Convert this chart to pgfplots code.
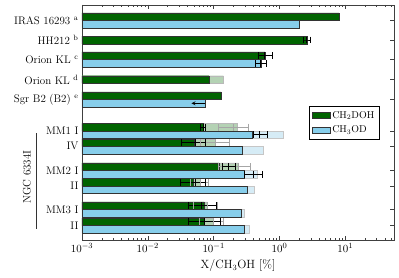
\documentclass[border=0pt]{standalone}
\usepackage{pgfplots}
\pgfplotsset{compat=1.18}
\definecolor{dg}{RGB}{0,100,0}
\definecolor{sb}{RGB}{135,206,235}
\definecolor{lg}{RGB}{180,210,180}
\definecolor{lb}{RGB}{214,236,246}
\begin{document}
\begin{tikzpicture}
\useasboundingbox (-82bp,-38bp) rectangle (317bp,240bp);
\begin{axis}[
 at={(0,0)}, anchor=south west,
 scale only axis, width=312bp, height=235bp,
 xmode=log, xmin=1e-3, xmax=55,
 ymin=5, ymax=240, y dir=reverse,
 log origin x=infty,
 bar shift=0pt, bar width=7.6,
 ytick={20.5,40,59.5,79.5,99.5,131,146.3,170.5,186,209.5,225.5},
 yticklabels={IRAS 16293 \textsuperscript{a},HH212 \textsuperscript{b},Orion KL \textsuperscript{c},Orion KL \textsuperscript{d},Sgr B2 (B2) \textsuperscript{e},MM1 I,IV,MM2 I,II,MM3 I,II},
 ticklabel style={font=\fontsize{11}{13}\selectfont},
 xlabel={X/CH$_3$OH [\%]},
 xlabel style={font=\fontsize{12}{14}\selectfont},
 axis line style={black!75},
 every tick/.style={black!75},
 major tick length=4bp, minor tick length=2bp,
 legend style={at={(0.728,0.57)}, anchor=north west, font=\fontsize{10}{12}\selectfont, draw=black, row sep=2pt, inner sep=3pt},
 legend cell align=left,
 legend image code/.code={\draw[#1] (0cm,-0.11cm) rectangle (0.62cm,0.11cm);},
]
% light bars
\addplot[xbar, fill=lg, draw=gray!55, forget plot] coordinates {(0.14,79.5) (0.23,127.2) (0.106,142.5) (0.24,166.7) (0.063,182.2) (0.08,205.7) (0.1,221.7)};
\addplot[xbar, fill=lb, draw=gray!45, forget plot] coordinates {(1.15,134.8) (0.57,150.1) (0.46,174.3) (0.42,189.8) (0.29,213.3) (0.35,229.3)};
% dark bars
\addplot[xbar, fill=dg, draw=black!80] coordinates {(8,16.7) (2.6,40) (0.6,55.7) (0.085,79.5) (0.13,95.7) (0.069,127.2) (0.05,142.5) (0.12,166.7) (0.049,182.2) (0.072,205.7) (0.072,221.7)};
\addlegendentry{CH$_2$DOH}
\addplot[xbar, fill=sb, draw=black!80] coordinates {(2.0,24.3) (0.52,63.3) (0.075,103.3) (0.39,134.8) (0.27,150.1) (0.29,174.3) (0.32,189.8) (0.26,213.3) (0.29,229.3)};
\addlegendentry{CH$_3$OD}
% gray error bars
\addplot[gray!70, line width=0.8pt, mark=|, mark size=3.5, mark options={solid, line width=0.8pt}, unbounded coords=jump, forget plot] coordinates {
 (0.12,127.2) (0.2,127.2) (0.34,127.2) (nan,nan)
 (0.063,142.5) (0.106,142.5) (0.174,142.5) (nan,nan)
 (0.12,166.7) (0.24,166.7) (0.36,166.7) (nan,nan)
 (0.045,182.2) (0.063,182.2) (0.083,182.2) (nan,nan)
 (0.05,205.7) (0.08,205.7) (0.115,205.7) (nan,nan)
 (0.06,221.7) (0.1,221.7) (0.14,221.7)};
% black error bars
\addplot[black, line width=0.8pt, mark=|, mark size=3.5, mark options={solid, line width=0.8pt}, unbounded coords=jump, forget plot] coordinates {
 (2.28,40) (2.6,40) (2.95,40) (nan,nan)
 (0.48,55.7) (0.6,55.7) (0.77,55.7) (nan,nan)
 (0.43,63.3) (0.52,63.3) (0.63,63.3) (nan,nan)
 (0.063,127.2) (0.069,127.2) (0.075,127.2) (nan,nan)
 (0.40,134.8) (0.5,134.8) (0.65,134.8) (nan,nan)
 (0.032,142.5) (0.053,142.5) (0.075,142.5) (nan,nan)
 (0.134,166.7) (0.17,166.7) (0.215,166.7) (nan,nan)
 (0.29,174.3) (0.40,174.3) (0.55,174.3) (nan,nan)
 (0.031,182.2) (0.052,182.2) (0.075,182.2) (nan,nan)
 (0.041,205.7) (0.066,205.7) (0.11,205.7) (nan,nan)
 (0.041,221.7) (0.072,221.7) (0.127,221.7)};
% upper limit arrow
\addplot[black, line width=0.8pt, -stealth, forget plot] coordinates {(0.075,103.3) (0.046,103.3)};
\end{axis}
\node[rotate=90, font=\fontsize{11}{13}\selectfont] at (-55bp,63bp) {NGC 6334I};
\draw[black!80, line width=0.8pt] (-46bp,11bp) -- (-46bp,107bp);
\end{tikzpicture}
\end{document}
